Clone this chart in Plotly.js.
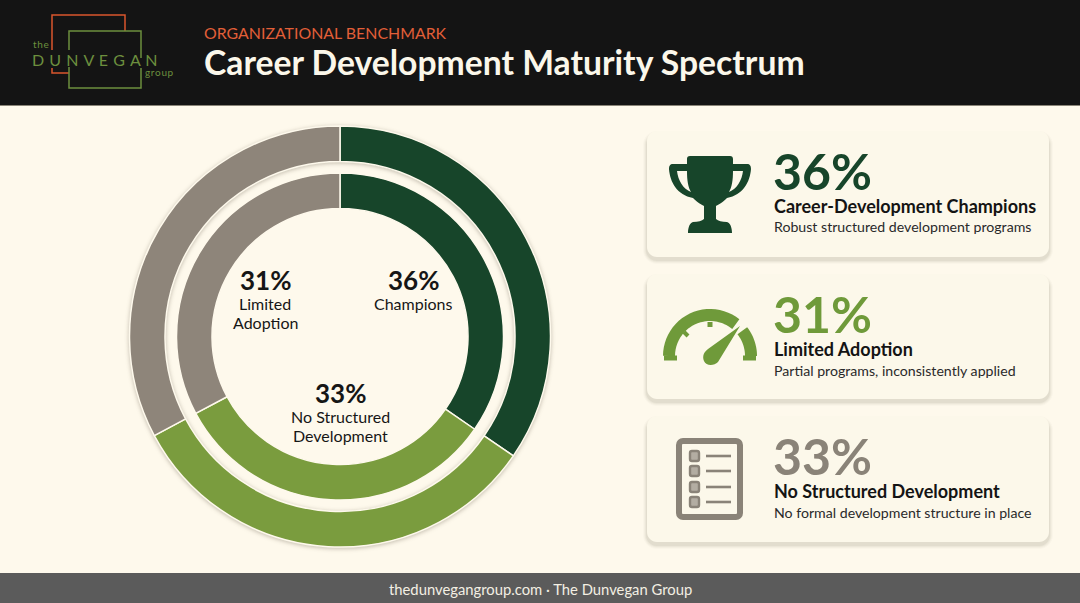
<!DOCTYPE html>
<html><head><meta charset="utf-8">
<script src="https://cdn.plot.ly/plotly-3.0.1.min.js"></script>
<style>
html,body{margin:0;padding:0;background:#fef9ec;overflow:hidden}
#chart{width:1080px;height:603px}
.pielayer .trace:first-child{filter:drop-shadow(0 1px 2px rgba(60,50,30,.3))}
</style></head><body><div id="chart"></div>
<script>
// ---- data ----
const categories = ['Champions','No Structured Development','Limited Adoption'];
const arcShares  = [34.6, 32.6, 32.8];
const sliceColors = ['#17452a','#7a9c3e','#8e857a'];
const kicker = 'ORGANIZATIONAL BENCHMARK';
const title = 'Career Development Maturity Spectrum';
const footer = 'thedunvegangroup.com · The Dunvegan Group';
const cardPcts = ['36%','31%','33%'];
const cardHeads = ['Career-Development Champions','Limited Adoption','No Structured Development'];
const cardSubs = ['Robust structured development programs','Partial programs, inconsistently applied','No formal development structure in place'];
const cardColors = ['#17452a','#6f9a3a','#8a8378'];
const donutLabels = [
  ['36%','Champions'],
  ['31%','Limited','Adoption'],
  ['33%','No Structured','Development']
];

// ---- layout helpers (pixel -> paper) ----
const W=1080,H=603, FONT='Lato, "Open Sans", sans-serif';
const BG='#fef9ec', CARD='#fcf8ea';
const px=x=>x/W, py=y=>1-y/H;
function conv(d){
  let i=0;
  return d.replace(/-?\d+(\.\d+)?/g,m=>{const v=+m;const r=(i++%2===0)?px(v):py(v);return r.toFixed(5);});
}
const shapes=[], ann=[];
function P(d,fill,opts={}){shapes.push(Object.assign({type:'path',xref:'paper',yref:'paper',path:conv(d),fillcolor:fill||'rgba(0,0,0,0)',line:{width:0},layer:'below'},opts));}
function rr(x0,y0,x1,y1,r){const k=r*0.45;return `M ${x0+r} ${y0} L ${x1-r} ${y0} C ${x1-k} ${y0} ${x1} ${y0+k} ${x1} ${y0+r} L ${x1} ${y1-r} C ${x1} ${y1-k} ${x1-k} ${y1} ${x1-r} ${y1} L ${x0+r} ${y1} C ${x0+k} ${y1} ${x0} ${y1-k} ${x0} ${y1-r} L ${x0} ${y0+r} C ${x0} ${y0+k} ${x0+k} ${y0} ${x0+r} ${y0} Z`;}
function T(text,x,y,size,color,o={}){ann.push(Object.assign({text,xref:'paper',yref:'paper',x:px(x),y:py(y),xanchor:'left',yanchor:'middle',showarrow:false,borderpad:0,font:{family:FONT,size,color}},o));}
function stroke(d,color,w){P(d,null,{line:{color,width:w}});}
function arc(cx,cy,r,a0,a1){let s='';const n=24;for(let i=0;i<=n;i++){const a=(a0+(a1-a0)*i/n)*Math.PI/180;s+=(i?'L ':'M ')+(cx+r*Math.cos(a)).toFixed(2)+' '+(cy-r*Math.sin(a)).toFixed(2)+' ';}return s;}

// header / footer
P('M 0 0 L 1080 0 L 1080 105 L 0 105 Z','#141414');
P('M 0 105 L 1080 105 L 1080 106 L 0 106 Z','#8a8578');
P('M 0 573 L 1080 573 L 1080 603 L 0 603 Z','#5b5b5b');

// logo
const lg='#6c8f3e';
stroke('M 52 50 L 52 15 L 125 15 L 125 31','#d9552d',1.5);
stroke('M 52 68 L 52 73 L 69 73','#d9552d',1.5);
stroke('M 69 50 L 69 31 L 141 31 L 141 58',lg,1.5);
stroke('M 69 67 L 69 88 L 141 88 L 141 68',lg,1.5);
T('t\u200ah\u200ae',32,44,10,lg);
T('D \u200aU \u200aN \u200aV \u200aE \u200aG \u200aA \u200aN',31,59,16,lg);
T('g\u200ar\u200ao\u200au\u200ap',144,72,10,lg);

// title
T(kicker,203,33,15.9,'#e25f38');
T('<b>'+title+'</b>',203,62,33.7,'#fbf7ea');
T(footer,540,589,14.8,'#f3efe3',{xanchor:'center'});

// cards
const cardTops=[131,274,416], cardBot=[257,399,542];
cardTops.forEach((t,i)=>{
  const b=cardBot[i];
  [[4,.02],[3,.03],[2,.045],[1,.06]].forEach(([g,o])=>{
    P(rr(647-g,t-g+4,1049+g,b+g+3,10+g),`rgba(70,60,40,${o})`);
  });
  P(rr(647,t,1049,b,10),CARD);
  const dy=[0,143,285][i];
  T('<b>'+cardPcts[i]+'</b>',771.5,171+dy,50,cardColors[i]);
  T('<b>'+cardHeads[i]+'</b>',772.5,206+dy,18,'#141414');
  T(cardSubs[i],772.5,227+dy,14.15,'#2a2a2a');
});

// trophy
const g1=cardColors[0];
P('M 690 156 L 730 156 C 732 156 733 157 733 159 L 733 164 L 747 164 C 750 164 751 166 751 169 C 750 182 743 195 727 198 C 722 203 718 205 716 206 L 716 219 C 718 221 722 222 727 222 C 730 223 732 227 732 233 L 688 233 C 688 227 690 223 693 222 C 698 222 702 221 704 219 L 704 206 C 702 205 698 203 693 198 C 677 195 670 182 669 169 C 669 166 670 164 673 164 L 687 164 L 687 159 C 687 157 688 156 690 156 Z',g1);
P('M 677 171 L 687 171 C 687 180 688 187 691 192 C 683 189 678 180 677 171 Z',CARD);
P('M 743 171 L 733 171 C 733 180 732 187 729 192 C 737 189 742 180 743 171 Z',CARD);

// gauge
const g2=cardColors[1];
stroke(arc(710,356,41,180,51),g2,12);
stroke(arc(710,356,41,38,0),g2,12);
stroke('M 664 358 L 677 358',g2,5);
stroke('M 743 358 L 756 358',g2,5);
stroke('M 710 322 L 710 327',g2,5);
stroke('M 684 332 L 688 336',g2,4);
P('M 740 326 L 718 362 C 714 366 706 366 704 361 C 702 356 704 352 708 349 Z',g2);

// checklist
const g3=cardColors[2];
P(rr(679,441,740,517,4),null,{line:{color:g3,width:6}});
[456,471,487,502].forEach(y=>{
  P(rr(690,y-5,699,y+5,2),'#b3ada2',{line:{color:g3,width:2.4}});
  stroke(`M 706 ${y} L 731 ${y}`,g3,2.6);
});

// donut labels
const lab=[[413,[280,303,322]],[265,[280,303,322]],[340,[393,416,435]]];
donutLabels.forEach((L,i)=>L.forEach((s,j)=>{
  T(j===0?'<b>'+s+'</b>':s,lab[i][0],lab[i][1][j],j===0?26:16,'#161616',{xanchor:'center'});
}));

function pie(R,hole){return {
  type:'pie',labels:categories,values:arcShares,sort:false,direction:'clockwise',rotation:0,
  hole,textinfo:'none',hoverinfo:'skip',showlegend:false,
  marker:{colors:sliceColors,line:{color:BG,width:1.5}},
  domain:{x:[px(340-R),px(340+R)],y:[py(336.5+R),py(336.5-R)]}
};}
Plotly.newPlot('chart',[pie(210.5,175/210.5),pie(163.5,128/163.5)],{
  width:W,height:H,margin:{l:0,r:0,t:0,b:0,pad:0},
  paper_bgcolor:BG,plot_bgcolor:BG,showlegend:false,
  shapes,annotations:ann
},{displayModeBar:false,staticPlot:true});
</script></body></html>
